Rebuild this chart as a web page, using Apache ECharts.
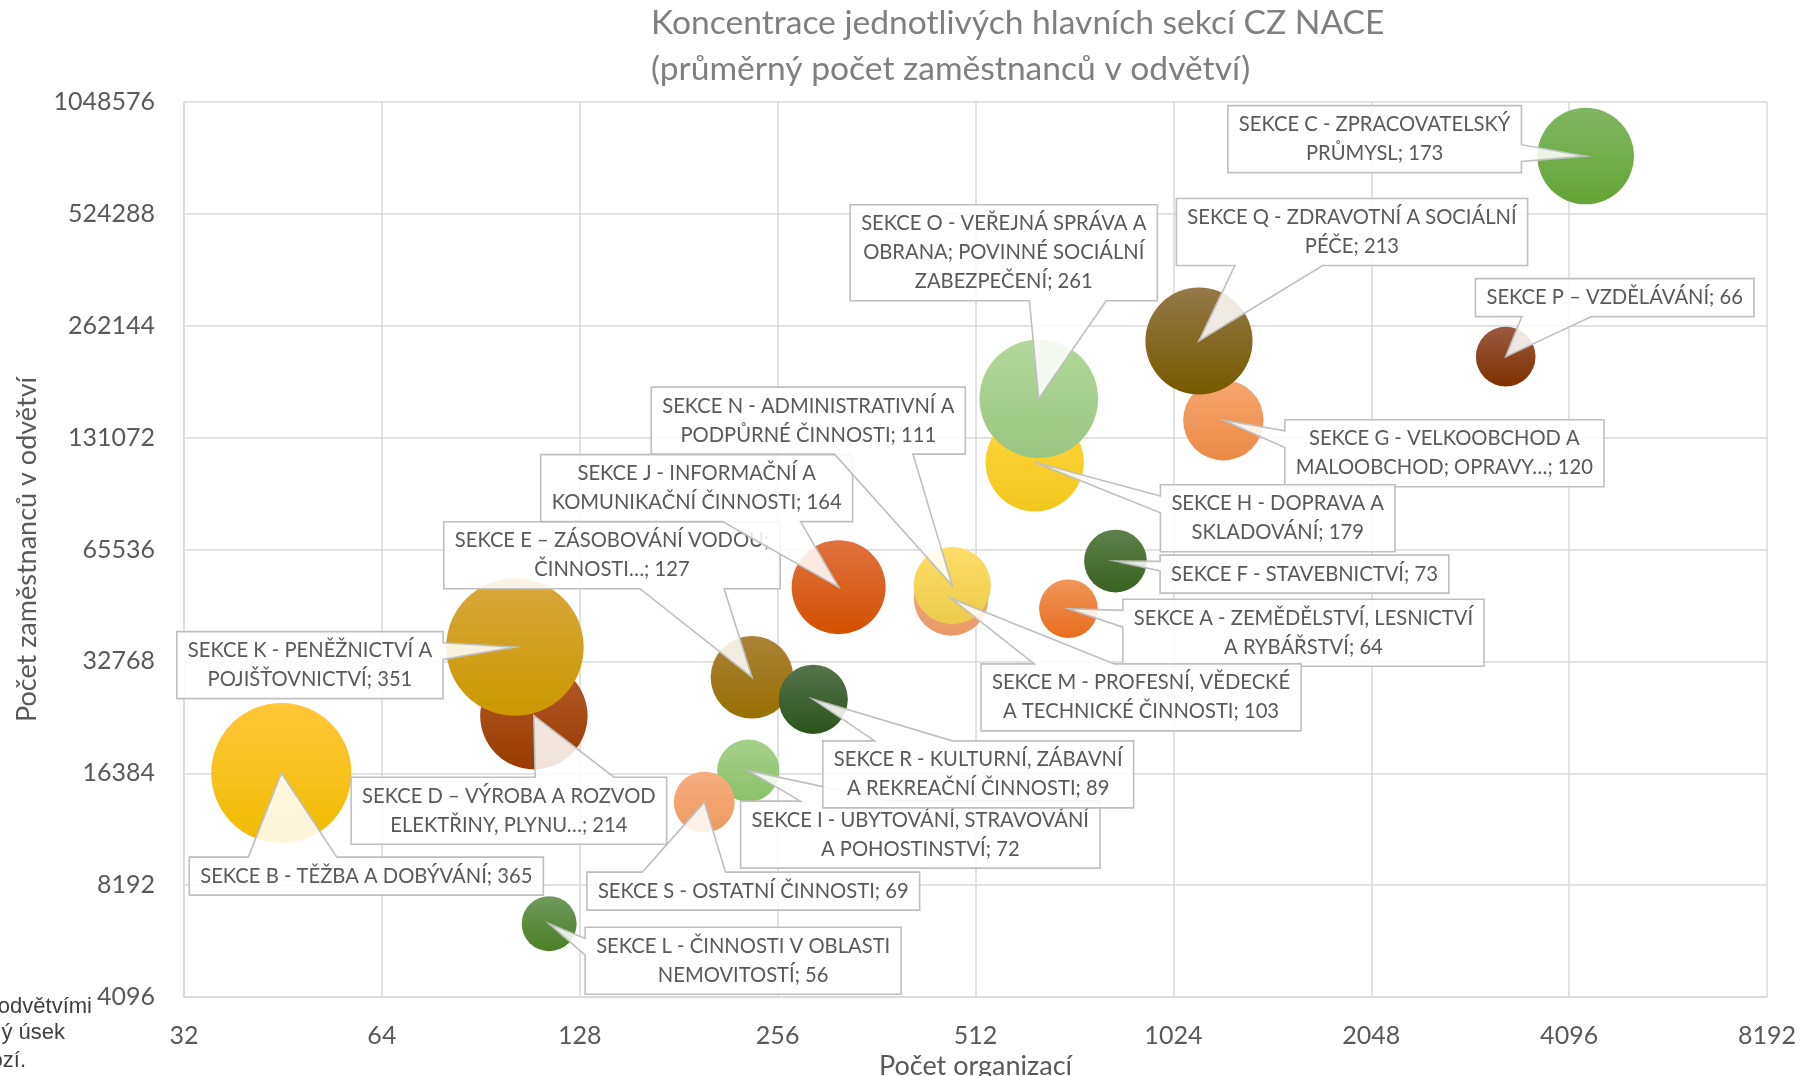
<!DOCTYPE html>
<html>
<head>
<meta charset="utf-8">
<script src="https://cdn.jsdelivr.net/npm/echarts@6/dist/echarts.min.js"></script>
<style>
  html, body { margin: 0; padding: 0; background: #ffffff; }
  #chart { width: 1801px; height: 1076px; }
</style>
</head>
<body>
<div id="chart"></div>
<script>
// Sekce CZ NACE (pořadí A–S), počet organizací, počet zaměstnanců a průměrný počet zaměstnanců
const sections = [
  'SEKCE A - ZEMĚDĚLSTVÍ, LESNICTVÍ\nA RYBÁŘSTVÍ',
  'SEKCE B - TĚŽBA A DOBÝVÁNÍ',
  'SEKCE C - ZPRACOVATELSKÝ\nPRŮMYSL',
  'SEKCE D – VÝROBA A ROZVOD\nELEKTŘINY, PLYNU…',
  'SEKCE E – ZÁSOBOVÁNÍ VODOU;\nČINNOSTI…',
  'SEKCE F - STAVEBNICTVÍ',
  'SEKCE G - VELKOOBCHOD A\nMALOOBCHOD; OPRAVY…',
  'SEKCE H - DOPRAVA A\nSKLADOVÁNÍ',
  'SEKCE I - UBYTOVÁNÍ, STRAVOVÁNÍ\nA POHOSTINSTVÍ',
  'SEKCE J - INFORMAČNÍ A\nKOMUNIKAČNÍ ČINNOSTI',
  'SEKCE K - PENĚŽNICTVÍ A\nPOJIŠŤOVNICTVÍ',
  'SEKCE L - ČINNOSTI V OBLASTI\nNEMOVITOSTÍ',
  'SEKCE M - PROFESNÍ, VĚDECKÉ\nA TECHNICKÉ ČINNOSTI',
  'SEKCE N - ADMINISTRATIVNÍ A\nPODPŮRNÉ ČINNOSTI',
  'SEKCE O - VEŘEJNÁ SPRÁVA A\nOBRANA; POVINNÉ SOCIÁLNÍ\nZABEZPEČENÍ',
  'SEKCE P – VZDĚLÁVÁNÍ',
  'SEKCE Q - ZDRAVOTNÍ A SOCIÁLNÍ\nPÉČE',
  'SEKCE R - KULTURNÍ, ZÁBAVNÍ\nA REKREAČNÍ ČINNOSTI',
  'SEKCE S - OSTATNÍ ČINNOSTI'
];
const orgCounts    = [709, 45, 4340, 109, 234, 836, 1220, 630, 231, 317, 102, 115, 470, 472, 639, 3280, 1120, 290, 198];
const employees    = [45400, 16400, 750000, 23400, 29700, 61000, 146000, 112500, 16650, 51900, 35800, 6450, 48400, 52400, 166800, 216500, 238500, 25900, 13700];
const avgEmployees = [64, 365, 173, 214, 127, 73, 120, 179, 72, 164, 351, 56, 103, 111, 261, 66, 213, 89, 69];

const xTicks = [32, 64, 128, 256, 512, 1024, 2048, 4096, 8192];
const yTicks = [4096, 8192, 16384, 32768, 65536, 131072, 262144, 524288, 1048576];

// Gradient fill of each bubble (top, bottom)
const bubbleColors = [
  ['#F1955A', '#E96D1C'], ['#FFC73A', '#EFBC00'], ['#80B763', '#62A535'],
  ['#B25B2C', '#9A3C00'], ['#A98238', '#997000'], ['#5F804B', '#3A621F'],
  ['#F5A66F', '#EC8A46'], ['#FFD63C', '#F1C71E'], ['#A7D08B', '#89C268'],
  ['#E0713F', '#D35100'], ['#D8A73C', '#CB9800'], ['#6F9A5C', '#4A7F27'],
  ['#F0AC80', '#E99A66'], ['#FFDD68', '#EACA4A'], ['#B3D899', '#9AC580'],
  ['#9A5A40', '#7E3000'], ['#947848', '#775900'], ['#56744C', '#2D531A'],
  ['#F5AE80', '#EE995E']
];
// Callout box centre relative to the bubble centre, in pixels
const calloutOffsets = [
  [235, 24], [85, 103], [-211, -17], [-25, 95], [-140, -122], [189, 13],
  [221, 33], [243, 56], [172, 64], [-142, -99], [-205, 18], [194, 37],
  [190, 99], [-144, -165], [-35, -146], [109, -59], [153, -109], [165, 75],
  [49, 89]
];

const BUBBLE_SCALE = 7.34;
const LABEL_FONT_SIZE = 20.2;
const LABEL_FONT = LABEL_FONT_SIZE + 'px Lato';
const LINE_H = 29, PAD_X = 11, PAD_Y = 4.5;

const measureCtx = document.createElement('canvas').getContext('2d');
function textWidth(s) {
  measureCtx.font = LABEL_FONT;
  return measureCtx.measureText(s).width;
}
function labelText(i) {
  return sections[i] + '; ' + avgEmployees[i];
}

// Rectangle callout with a wedge pointing at (tx, ty)
function calloutPoints(l, t, w, h, tx, ty) {
  const hc = l + w / 2, vc = t + h / 2;
  const dx = tx - hc, dy = ty - vc;
  const dz = Math.abs(dy) - Math.abs(dx * h / w);
  const r = l + w, b = t + h;
  const bx1 = l + w * (dx > 0 ? 7 : 2) / 12, bx2 = l + w * (dx > 0 ? 10 : 5) / 12;
  const by1 = t + h * (dy > 0 ? 7 : 2) / 12, by2 = t + h * (dy > 0 ? 10 : 5) / 12;
  const pts = [[l, t]];
  if (dz > 0 && dy < 0) pts.push([bx1, t], [tx, ty], [bx2, t]);
  pts.push([r, t]);
  if (dz <= 0 && dx > 0) pts.push([r, by1], [tx, ty], [r, by2]);
  pts.push([r, b]);
  if (dz > 0 && dy > 0) pts.push([bx2, b], [tx, ty], [bx1, b]);
  pts.push([l, b]);
  if (dz <= 0 && dx < 0) pts.push([l, by2], [tx, ty], [l, by1]);
  return pts;
}

const bubbleData = orgCounts.map((x, i) => ({
  value: [x, employees[i], avgEmployees[i]],
  itemStyle: {
    opacity: 1,
    color: {
      type: 'linear', x: 0, y: 0, x2: 0, y2: 1,
      colorStops: [
        { offset: 0, color: bubbleColors[i][0] },
        { offset: 1, color: bubbleColors[i][1] }
      ]
    }
  }
}));
const calloutData = orgCounts.map((x, i) => [x, employees[i], avgEmployees[i]]);

const textColor = '#595959';
const gridColor = '#d9d9d9';

const chart = echarts.init(document.getElementById('chart'), null, { renderer: 'canvas' });
chart.setOption({
  animation: false,
  backgroundColor: '#ffffff',
  title: {
    text: 'Koncentrace jednotlivých hlavních sekcí CZ NACE\n(průměrný počet zaměstnanců v odvětví)',
    left: 651,
    top: 0,
    padding: 0,
    textStyle: {
      fontFamily: 'Lato', fontSize: 33.6, fontWeight: 'normal',
      color: '#7f7f7f', lineHeight: 46
    }
  },
  grid: { left: 184, right: 34, top: 102, bottom: 79, containLabel: false, outerBoundsMode: 'none' },
  xAxis: {
    type: 'log', logBase: 2,
    min: xTicks[0], max: xTicks[xTicks.length - 1], splitNumber: xTicks.length - 1,
    name: 'Počet organizací', nameLocation: 'middle', nameGap: 51,
    nameTextStyle: { fontFamily: 'Lato', fontSize: 27, color: textColor },
    axisLine: { show: true, lineStyle: { color: gridColor, width: 1.5 } },
    axisTick: { show: false },
    splitLine: { show: true, lineStyle: { color: gridColor, width: 1.5 } },
    axisLabel: {
      margin: 26, fontFamily: 'Lato', fontSize: 25, color: textColor,
      formatter: v => String(Math.round(v))
    }
  },
  yAxis: {
    type: 'log', logBase: 2,
    min: yTicks[0], max: yTicks[yTicks.length - 1], splitNumber: yTicks.length - 1,
    name: 'Počet zaměstnanců v odvětví', nameLocation: 'middle', nameGap: 143,
    nameTextStyle: { fontFamily: 'Lato', fontSize: 27, color: textColor },
    axisLine: { show: true, lineStyle: { color: gridColor, width: 1.5 } },
    axisTick: { show: false },
    splitLine: { show: true, lineStyle: { color: gridColor, width: 1.5 } },
    axisLabel: {
      margin: 29, fontFamily: 'Lato', fontSize: 25, color: textColor,
      formatter: v => String(Math.round(v))
    }
  },
  graphic: [
    { type: 'text', x: 92, y: 1007, style: { text: 'odvětvími', font: '22px "Liberation Sans"', fill: '#404040', align: 'right', verticalAlign: 'middle' } },
    { type: 'text', x: 65, y: 1033, style: { text: 'ý úsek', font: '22px "Liberation Sans"', fill: '#404040', align: 'right', verticalAlign: 'middle' } },
    { type: 'text', x: 26, y: 1061, style: { text: 'ozí.', font: '22px "Liberation Sans"', fill: '#404040', align: 'right', verticalAlign: 'middle' } }
  ],
  series: [
    {
      type: 'scatter',
      name: 'sekce',
      data: bubbleData,
      symbol: 'circle',
      symbolSize: v => BUBBLE_SCALE * Math.sqrt(v[2]),
      itemStyle: { opacity: 1 },
      z: 2,
      emphasis: { disabled: true }
    },
    {
      type: 'custom',
      name: 'popisky',
      data: calloutData,
      z: 3,
      clip: false,
      silent: true,
      renderItem: function (params, api) {
        const i = params.dataIndex;
        const c = api.coord([api.value(0), api.value(1)]);
        const text = labelText(i);
        const lines = text.split('\n');
        const w = Math.max.apply(null, lines.map(textWidth)) + PAD_X * 2;
        const h = lines.length * LINE_H + PAD_Y * 2;
        const cx = c[0] + calloutOffsets[i][0];
        const cy = c[1] + calloutOffsets[i][1];
        const l = cx - w / 2, t = cy - h / 2;
        return {
          type: 'group',
          children: [
            {
              type: 'polygon',
              shape: { points: calloutPoints(l, t, w, h, c[0], c[1]) },
              style: { fill: 'rgba(255,255,255,0.86)', stroke: '#bfbfbf', lineWidth: 1.6, lineJoin: 'miter' }
            },
            {
              type: 'text',
              x: cx, y: cy,
              style: {
                text: text, font: LABEL_FONT, fill: textColor,
                align: 'center', verticalAlign: 'middle', lineHeight: LINE_H
              }
            }
          ]
        };
      }
    }
  ]
});
</script>
</body>
</html>
